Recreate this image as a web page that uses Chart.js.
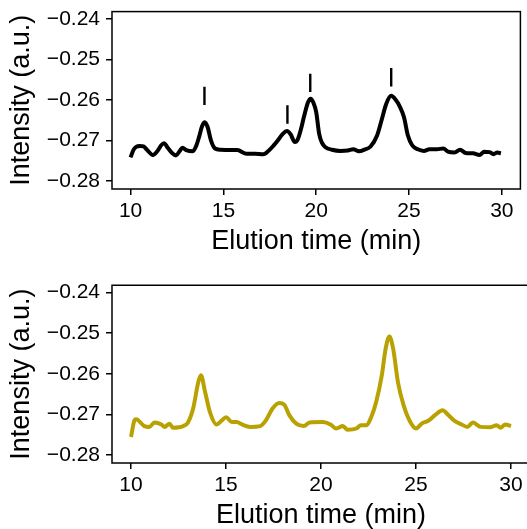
<!DOCTYPE html>
<html><head><meta charset="utf-8">
<script src="https://cdn.jsdelivr.net/npm/chart.js@4"></script>
<style>
html,body{margin:0;padding:0;width:527px;height:529px;overflow:hidden;background:#fff;}
.panel{position:absolute;left:0;width:532px;height:264px;}
canvas{display:block;}
</style></head><body>
<div class="panel" style="top:0"><canvas id="c1" width="532" height="264"></canvas></div>
<div class="panel" style="top:274px"><canvas id="c2" width="532" height="264"></canvas></div>
<script>
// ---- data ----
const timeA = [10.00,10.15,10.30,10.50,10.70,10.90,11.20,11.45,11.65,11.80,12.00,12.25,12.45,12.65,12.80,13.00,13.35,13.55,13.70,13.85,14.00,14.15,14.33,14.55,14.85,15.30,15.75,16.25,16.70,17.15,17.45,17.70,17.95,18.20,18.42,18.62,18.85,19.00,19.18,19.35,19.55,19.70,19.85,20.00,20.16,20.30,20.50,20.85,21.30,21.70,22.00,22.30,22.60,22.93,23.28,23.54,23.77,24.04,24.25,24.51,24.73,24.94,25.17,25.47,25.80,26.10,26.50,26.85,27.10,27.45,27.75,28.05,28.45,28.80,29.05,29.35,29.55,29.75,29.95];
const intensityA = [-0.2742,-0.2724,-0.2716,-0.2714,-0.2715,-0.2724,-0.2736,-0.2726,-0.2712,-0.2707,-0.2718,-0.2732,-0.2737,-0.2726,-0.2718,-0.2724,-0.2727,-0.2712,-0.2690,-0.2665,-0.2655,-0.2667,-0.2700,-0.2720,-0.2723,-0.2724,-0.2724,-0.2733,-0.2733,-0.2734,-0.2725,-0.2713,-0.2699,-0.2684,-0.2677,-0.2685,-0.2704,-0.2698,-0.2672,-0.2640,-0.2607,-0.2597,-0.2607,-0.2630,-0.2684,-0.2705,-0.2717,-0.2723,-0.2726,-0.2725,-0.2722,-0.2727,-0.2723,-0.2715,-0.2688,-0.2647,-0.2610,-0.2590,-0.2598,-0.2617,-0.2643,-0.2688,-0.2712,-0.2722,-0.2726,-0.2722,-0.2722,-0.2720,-0.2728,-0.2730,-0.2723,-0.2731,-0.2732,-0.2736,-0.2728,-0.2729,-0.2734,-0.2730,-0.2732];

const timeB = [10.00,10.18,10.27,10.70,10.97,11.24,11.60,11.77,12.03,12.20,12.75,13.00,13.27,13.54,13.68,13.90,14.15,14.50,14.78,15.00,15.30,15.57,15.84,16.28,16.80,17.10,17.46,17.80,18.06,18.33,18.70,19.10,19.40,20.10,20.50,20.80,21.15,21.40,21.86,22.10,22.40,22.64,22.90,23.20,23.40,23.60,23.80,24.05,24.35,24.70,25.00,25.30,25.65,26.00,26.40,26.70,27.05,27.40,27.70,28.00,28.40,28.90,29.25,29.45,29.70,30.00];
const intensityB = [-0.2756,-0.2715,-0.2712,-0.2729,-0.2731,-0.2720,-0.2725,-0.2731,-0.2723,-0.2733,-0.2729,-0.2720,-0.2686,-0.2621,-0.2604,-0.2645,-0.2694,-0.2725,-0.2715,-0.2707,-0.2719,-0.2719,-0.2725,-0.2731,-0.2729,-0.2715,-0.2685,-0.2672,-0.2676,-0.2702,-0.2723,-0.2729,-0.2720,-0.2719,-0.2725,-0.2735,-0.2729,-0.2738,-0.2735,-0.2727,-0.2727,-0.2707,-0.2670,-0.2604,-0.2539,-0.2508,-0.2539,-0.2621,-0.2678,-0.2719,-0.2735,-0.2723,-0.2716,-0.2702,-0.2690,-0.2702,-0.2717,-0.2725,-0.2731,-0.2720,-0.2731,-0.2732,-0.2727,-0.2733,-0.2725,-0.2729];

const markerTimes = [13.98, 18.45, 19.68, 24.04];
const markerIntensity = [-0.2590, -0.2636, -0.2558, -0.2544];

const xTicks = [10, 15, 20, 25, 30];
const yTicks = [-0.28, -0.27, -0.26, -0.25, -0.24];
const xLimits = [9, 31];
const yLimits = [-0.282, -0.2382];
const xTitle = 'Elution time (min)';
const yTitle = 'Intensity (a.u.)';

// ---- drawing ----
const FONT = "'Liberation Sans', Arial, Helvetica, sans-serif";
Chart.defaults.font.family = FONT;
Chart.defaults.color = '#000';

const boxPlugin = {
  id: 'box',
  afterDraw(chart) {
    const {ctx, chartArea: a} = chart;
    ctx.save();
    ctx.strokeStyle = '#000';
    ctx.lineWidth = 1.5;
    ctx.strokeRect(a.left, a.top, a.right - a.left, a.bottom - a.top);
    ctx.restore();
  }
};

function fmtY(v) {
  return Number(v).toFixed(2).replace('-', '\u2212');
}

function makeOptions() {
  return {
    responsive: false,
    animation: false,
    devicePixelRatio: 1,
    layout: {padding: {top: 10, right: 2, left: 0, bottom: 0}},
    plugins: {legend: {display: false}, tooltip: {enabled: false}},
    scales: {
      x: {
        type: 'linear', min: xLimits[0], max: xLimits[1],
        afterBuildTicks: s => { s.ticks = xTicks.map(v => ({value: v})); },
        afterFit: s => { s.height = 75; },
        grid: {drawOnChartArea: false, drawTicks: true, tickLength: 6, color: '#000', lineWidth: 1.5},
        border: {display: false},
        ticks: {color: '#000', font: {size: 21}, padding: 4, maxRotation: 0, autoSkip: false,
                callback: v => String(v)},
        title: {display: true, text: xTitle, color: '#000', font: {size: 27, lineHeight: 1},
                padding: {top: 0, bottom: 8.5}}
      },
      y: {
        type: 'linear', min: yLimits[0], max: yLimits[1],
        afterBuildTicks: s => { s.ticks = yTicks.map(v => ({value: v})); },
        afterFit: s => { s.width = 112; },
        grid: {drawOnChartArea: false, drawTicks: true, tickLength: 6, color: '#000', lineWidth: 1.5},
        border: {display: false},
        ticks: {color: '#000', font: {size: 21, lineHeight: 0.5}, padding: 6, autoSkip: false,
                callback: v => fmtY(v)},
        title: {display: true, text: yTitle, color: '#000', font: {size: 27, lineHeight: 1},
                padding: {top: 8, bottom: 0}}
      }
    }
  };
}

function pts(xs, ys) { return xs.map((x, i) => ({x: x, y: ys[i]})); }

new Chart(document.getElementById('c1'), {
  type: 'line',
  data: {
    datasets: [
      {data: pts(timeA, intensityA), borderColor: '#000', borderWidth: 4, pointRadius: 0,
       cubicInterpolationMode: 'monotone', fill: false},
      {type: 'scatter', data: pts(markerTimes, markerIntensity), showLine: false,
       pointStyle: 'line', rotation: 90, pointRadius: 9.2, borderColor: '#000', borderWidth: 2.4,
       backgroundColor: '#000'}
    ]
  },
  options: makeOptions(),
  plugins: [boxPlugin]
});

new Chart(document.getElementById('c2'), {
  type: 'line',
  data: {
    datasets: [
      {data: pts(timeB, intensityB), borderColor: '#B8A100', borderWidth: 4, pointRadius: 0,
       cubicInterpolationMode: 'monotone', fill: false}
    ]
  },
  options: makeOptions(),
  plugins: [boxPlugin]
});
</script>
</body></html>
